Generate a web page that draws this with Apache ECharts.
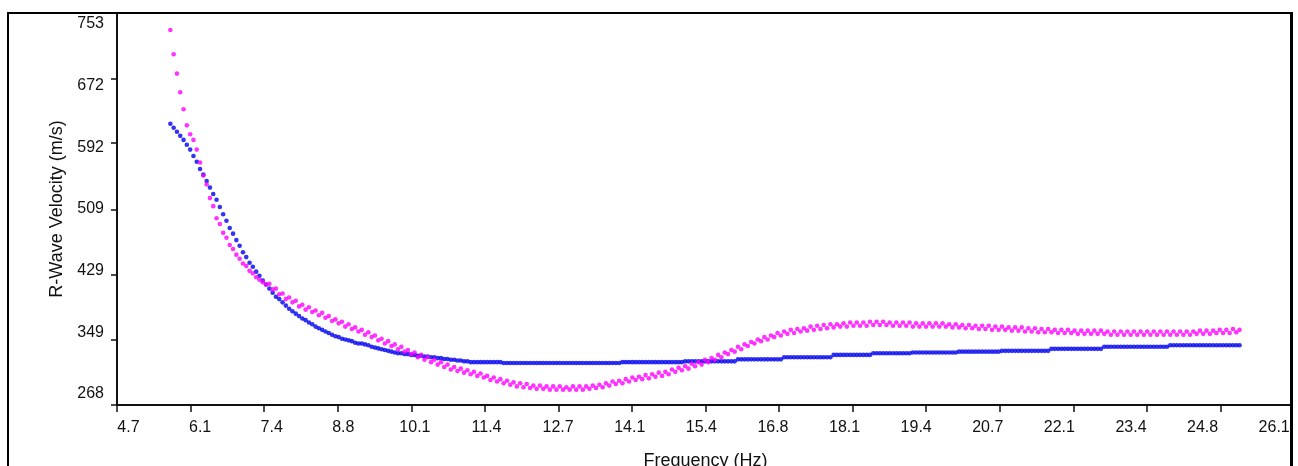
<!DOCTYPE html>
<html>
<head>
<meta charset="utf-8">
<script src="https://cdn.jsdelivr.net/npm/echarts@6/dist/echarts.min.js"></script>
<style>
html,body{margin:0;padding:0;background:#fff;}
#c{width:1298px;height:466px;}
</style>
</head>
<body>
<div id="c"></div>
<script>
// ---- data ----
const X_LABELS = ['4.7','6.1','7.4','8.8','10.1','11.4','12.7','14.1','15.4','16.8','18.1','19.4','20.7','22.1','23.4','24.8','26.1'];
const Y_LABELS = ['268','349','429','509','592','672','753'];
const X_MIN = 4.7, X_MAX = 26.1, Y_MIN = 268, Y_MAX = 753;

const FREQ = [
5.67,5.73,5.79,5.85,5.91,5.97,6.03,6.09,6.15,6.21,
6.27,6.33,6.39,6.45,6.51,6.57,6.63,6.69,6.75,6.81,
6.87,6.93,6.99,7.05,7.11,7.17,7.23,7.29,7.35,7.41,
7.47,7.53,7.59,7.65,7.71,7.77,7.83,7.89,7.95,8.01,
8.07,8.13,8.19,8.25,8.31,8.37,8.43,8.49,8.55,8.61,
8.67,8.73,8.79,8.85,8.91,8.97,9.03,9.09,9.15,9.21,
9.27,9.33,9.39,9.45,9.51,9.57,9.63,9.69,9.75,9.81,
9.87,9.93,9.99,10.05,10.11,10.17,10.23,10.29,10.35,10.41,
10.47,10.53,10.59,10.65,10.71,10.77,10.83,10.89,10.95,11.01,
11.07,11.13,11.19,11.25,11.31,11.37,11.43,11.49,11.55,11.61,
11.67,11.73,11.79,11.85,11.91,11.97,12.03,12.09,12.15,12.21,
12.27,12.33,12.39,12.45,12.51,12.57,12.63,12.69,12.75,12.81,
12.87,12.93,12.99,13.05,13.11,13.17,13.23,13.29,13.35,13.41,
13.47,13.53,13.59,13.65,13.71,13.77,13.83,13.89,13.95,14.01,
14.07,14.13,14.19,14.25,14.31,14.37,14.43,14.49,14.55,14.61,
14.67,14.73,14.79,14.85,14.91,14.97,15.03,15.09,15.15,15.21,
15.27,15.33,15.39,15.45,15.51,15.57,15.63,15.69,15.75,15.81,
15.87,15.93,15.99,16.05,16.11,16.17,16.23,16.29,16.35,16.41,
16.47,16.53,16.59,16.65,16.71,16.77,16.83,16.89,16.95,17.01,
17.07,17.13,17.19,17.25,17.31,17.37,17.43,17.49,17.55,17.61,
17.67,17.73,17.79,17.85,17.91,17.97,18.03,18.09,18.15,18.21,
18.27,18.33,18.39,18.45,18.51,18.57,18.63,18.69,18.75,18.81,
18.87,18.93,18.99,19.05,19.11,19.17,19.23,19.29,19.35,19.41,
19.47,19.53,19.59,19.65,19.71,19.77,19.83,19.89,19.95,20.01,
20.07,20.13,20.19,20.25,20.31,20.37,20.43,20.49,20.55,20.61,
20.67,20.73,20.79,20.85,20.91,20.97,21.03,21.09,21.15,21.21,
21.27,21.33,21.39,21.45,21.51,21.57,21.63,21.69,21.75,21.81,
21.87,21.93,21.99,22.05,22.11,22.17,22.23,22.29,22.35,22.41,
22.47,22.53,22.59,22.65,22.71,22.77,22.83,22.89,22.95,23.01,
23.07,23.13,23.19,23.25,23.31,23.37,23.43,23.49,23.55,23.61,
23.67,23.73,23.79,23.85,23.91,23.97,24.03,24.09,24.15,24.21,
24.27,24.33,24.39,24.45,24.51,24.57,24.63,24.69,24.75,24.81,
24.87,24.93,24.99,25.05,25.11
];

// magenta series (m/s)
const VEL_MAGENTA = [
732,702,678,655,634,614,603,596,584,568,
552,541,524,514,499,492,481,475,466,461,
454,449,443,440,434,431,426,423,420,417,
418,411,412,405,406,399,401,395,397,390,
392,386,389,383,385,379,382,376,378,372,
374,369,371,365,368,362,364,359,361,355,
358,352,354,348,350,344,347,341,343,337,
340,334,336,331,333,327,330,324,327,321,
324,318,321,315,318,312,315,310,313,308,
311,306,309,304,307,302,304,299,302,297,
300,295,298,293,296,291,295,290,294,289,
292,288,292,288,291,287,291,287,291,287,
290,287,291,287,291,287,291,288,292,289,
293,290,295,292,297,294,298,295,300,297,
302,299,303,300,305,301,306,303,308,304,
309,306,312,309,314,311,316,313,319,316,
321,318,324,321,326,324,330,327,333,331,
336,334,340,337,343,341,346,344,349,347,
352,349,354,352,357,354,359,356,361,357,
362,359,363,360,365,361,366,362,367,363,
368,364,368,365,369,365,370,366,370,366,
370,366,371,367,371,367,371,367,370,366,
370,366,370,366,370,365,369,365,369,365,
369,365,369,365,369,365,368,364,368,364,
367,363,367,363,366,362,366,362,366,361,
365,361,365,361,364,360,364,360,364,359,
363,359,363,358,362,358,362,358,361,357,
361,357,361,357,360,356,360,356,360,356,
360,356,360,356,359,355,359,355,359,355,
359,355,359,355,359,355,359,355,359,355,
359,355,359,355,359,355,359,355,359,355,
359,356,360,356,360,356,360,357,361,357,
361,357,362,358,361
];

// blue series (m/s)
const VEL_BLUE = [
616,611,606,601,596,590,584,576,569,560,
553,545,537,529,522,513,504,496,487,480,
472,465,457,451,444,439,433,428,422,417,
412,407,402,399,395,391,387,384,381,378,
375,373,370,368,365,363,361,359,357,355,
353,352,350,349,348,347,345,344,344,343,
342,340,339,338,337,336,335,334,333,332,
332,331,331,330,330,329,329,328,328,327,
327,326,326,325,325,324,324,323,323,322,
322,321,321,321,321,321,321,321,321,321,
321,320,320,320,320,320,320,320,320,320,
320,320,320,320,320,320,320,320,320,320,
320,320,320,320,320,320,320,320,320,320,
320,320,320,320,320,320,320,321,321,321,
321,321,321,321,321,321,321,321,321,321,
321,321,321,321,321,321,322,322,322,322,
322,322,322,322,322,322,322,322,322,322,
322,322,324.5,324.5,324.5,324.5,324.5,324.5,324.5,324.5,
324.5,324.5,324.5,324.5,324.5,324.5,327,327,327,327,
327,327,327,327,327,327,327,327,327,327,
327,330,330,330,330,330,330,330,330,330,
330,330,330,332,332,332,332,332,332,332,
332,332,332,332,332,333,333,333,333,333,
333,333,333,333,333,333,333,333,333,334,
334,334,334,334,334,334,334,334,334,334,
334,334,335,335,335,335,335,335,335,335,
335,335,335,335,335,335,335,337.5,337.5,337.5,
337.5,337.5,337.5,337.5,337.5,337.5,337.5,337.5,337.5,337.5,
337.5,337.5,337.5,340,340,340,340,340,340,340,
340,340,340,340,340,340,340,340,340,340,
340,340,340,342,342,342,342,342,342,342,
342,342,342,342,342,342,342,342,342,342,
342,342,342,342,342
];

// ---- layout helpers ----
const xTicks = X_LABELS.map((_, k) => X_MIN + k * (X_MAX - X_MIN) / (X_LABELS.length - 1));
// labels sit slightly compressed relative to their ticks (as in the source chart)
const xLabelPos = xTicks.map(v => X_MIN + 0.209 + (v - X_MIN) * 0.9734);
const yTicks = Y_LABELS.map(Number);
const yMid = (Y_MIN + Y_MAX) / 2;
const yLabelPos = Y_LABELS.map((_, k) => yMid + (k / (Y_LABELS.length - 1) - 0.5) * (Y_MAX - Y_MIN) * 0.944);

function nearestLabel(val, pos, labels) {
  let best = 0, bd = Infinity;
  pos.forEach((p, i) => { const d = Math.abs(p - val); if (d < bd) { bd = d; best = i; } });
  return labels[best];
}

const FONT = 'Liberation Sans, Arial, sans-serif';
const TXT = '#111';

const chart = echarts.init(document.getElementById('c'), null, {renderer: 'canvas'});
chart.setOption({
  animation: false,
  backgroundColor: '#fff',
  grid: {left: 117, right: 4, top: 13, bottom: 61, containLabel: false, outerBoundsMode: 'none'},
  xAxis: {
    type: 'value', min: X_MIN, max: X_MAX,
    name: 'Frequency (Hz)', nameLocation: 'middle', nameGap: 47,
    nameTextStyle: {fontSize: 18, fontFamily: FONT, color: TXT},
    axisLine: {show: true, onZero: false, lineStyle: {color: '#111', width: 2}},
    axisTick: {show: true, customValues: xTicks, length: 7, lineStyle: {color: '#111', width: 1.5}},
    axisLabel: {
      customValues: xLabelPos, showMinLabel: true, showMaxLabel: true,
      formatter: v => nearestLabel(v, xLabelPos, X_LABELS),
      margin: 15, fontSize: 16, fontFamily: FONT, color: TXT
    },
    splitLine: {show: false}
  },
  yAxis: {
    type: 'value', min: Y_MIN, max: Y_MAX,
    name: 'R-Wave Velocity (m/s)', nameLocation: 'middle', nameGap: 50,
    nameTextStyle: {fontSize: 18, fontFamily: FONT, color: TXT},
    axisLine: {show: true, onZero: false, lineStyle: {color: '#111', width: 2}},
    axisTick: {show: true, customValues: yTicks, length: 6, lineStyle: {color: '#111', width: 1.5}},
    axisLabel: {
      customValues: yLabelPos, showMinLabel: true, showMaxLabel: true,
      formatter: v => nearestLabel(v, yLabelPos, Y_LABELS),
      margin: 13, fontSize: 16, fontFamily: FONT, color: TXT
    },
    splitLine: {show: false}
  },
  series: [
    {
      name: 'Blue', type: 'scatter', symbol: 'circle', symbolSize: 4.6,
      itemStyle: {color: '#0000f0'},
      data: FREQ.map((f, i) => [f, VEL_BLUE[i]])
    },
    {
      name: 'Magenta', type: 'scatter', symbol: 'circle', symbolSize: 4.6,
      itemStyle: {color: '#ff00ff'},
      data: FREQ.map((f, i) => [f, VEL_MAGENTA[i]])
    }
  ],
  graphic: [
    {type: 'rect', z: 100, silent: true, shape: {x: 1293, y: 0, width: 5, height: 466}, style: {fill: '#fff'}},
    {type: 'rect', z: 101, silent: true, shape: {x: 7, y: 12, width: 2, height: 454}, style: {fill: '#000'}},
    {type: 'rect', z: 101, silent: true, shape: {x: 7, y: 12, width: 1286, height: 2}, style: {fill: '#000'}},
    {type: 'rect', z: 101, silent: true, shape: {x: 1290, y: 12, width: 3, height: 454}, style: {fill: '#000'}}
  ]
});
</script>
</body>
</html>
